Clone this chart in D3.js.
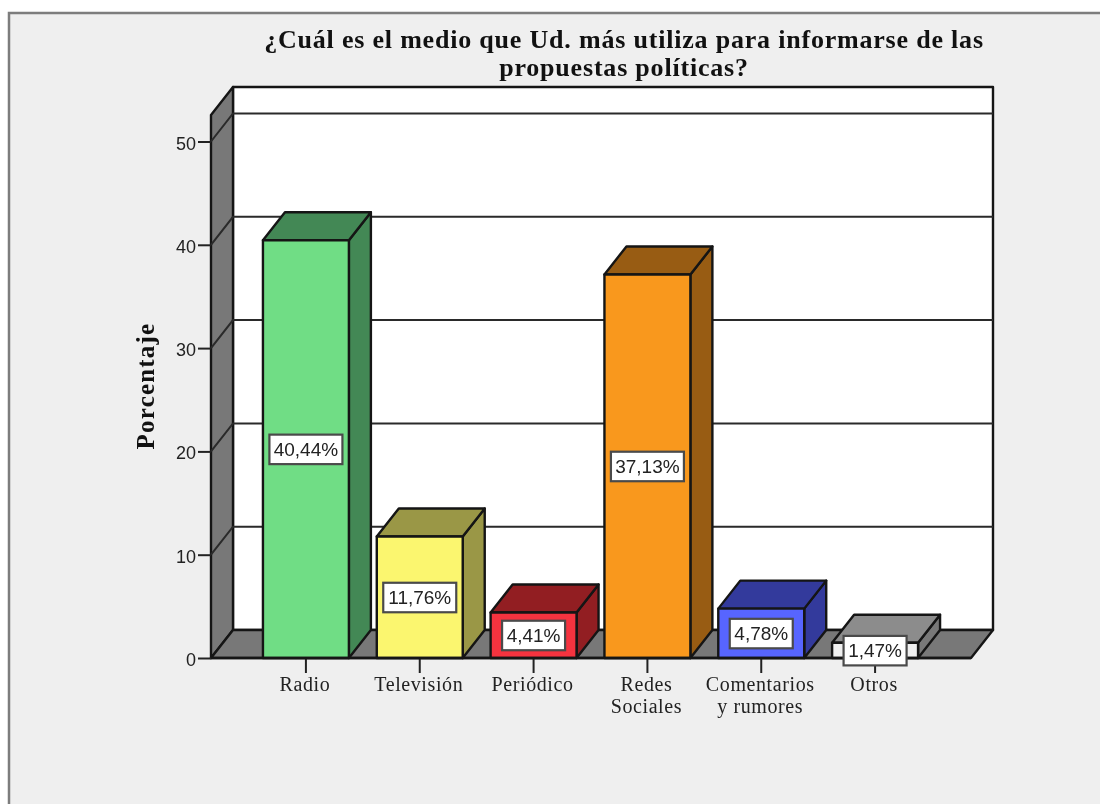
<!DOCTYPE html>
<html><head><meta charset="utf-8">
<script src="https://cdn.jsdelivr.net/npm/d3@7"></script>
<style>html,body{margin:0;padding:0;background:#fff;overflow:hidden}svg{display:block;filter:blur(0.5px)}</style>
</head><body><svg id="c" width="1100" height="804"></svg>
<script>
const titleLines = ["¿Cuál es el medio que Ud. más utiliza para informarse de las","propuestas políticas?"];
const yTitle = "Porcentaje";
const categories = ["Radio","Televisión","Periódico","Redes Sociales","Comentarios y rumores","Otros"];
const categoryLines = [["Radio"],["Televisión"],["Periódico"],["Redes","Sociales"],["Comentarios","y rumores"],["Otros"]];
const values = [40.44,11.76,4.41,37.13,4.78,1.47];
const valueLabels = ["40,44%","11,76%","4,41%","37,13%","4,78%","1,47%"];
const yTicks = [0,10,20,30,40,50];
const frontColors = ["#70dd85","#fbf66f","#f5333f","#f9981d","#5765ff","#f0f0f0"];
const topColors = ["#438855","#9a9746","#921e22","#985c13","#333a9c","#8c8c8c"];
const sideColors = ["#438855","#9a9746","#921e22","#985c13","#333a9c","#787878"];

const svg = d3.select("#c");
const DX = 22, DY = -28, STROKE = "#151515", WALL = "#787878";
const y = d3.scaleLinear().domain([0,50]).range([658,141.5]);
const x = d3.scaleBand().domain(categories).range([249,932]).paddingInner(0.245).paddingOuter(0.1225);
const left = 211, right = 971, yTop = 115, y0 = y(0);

svg.append("rect").attr("x",9).attr("y",13).attr("width",1100).attr("height",810)
  .attr("fill","#efefef").attr("stroke","#7d7d7d").attr("stroke-width",2.5);

const poly = (pts,fill,sw=2.4) => svg.append("polygon").attr("points",pts.map(p=>p.join(",")).join(" "))
  .attr("fill",fill).attr("stroke",STROKE).attr("stroke-width",sw).attr("stroke-linejoin","round");

// back wall, left wall, floor
poly([[left+DX,yTop+DY],[right+DX,yTop+DY],[right+DX,y0+DY],[left+DX,y0+DY]],"#fff");
poly([[left,yTop],[left+DX,yTop+DY],[left+DX,y0+DY],[left,y0]],WALL);
poly([[left,y0],[left+DX,y0+DY],[right+DX,y0+DY],[right,y0]],WALL);

// grid lines
yTicks.filter(t=>t>0).forEach(t=>{
  svg.append("path").attr("fill","none").attr("stroke","#2a2a2a").attr("stroke-width",2)
    .attr("d",d3.line()([[left,y(t)],[left+DX,y(t)+DY],[right+DX,y(t)+DY]]));
});

// bars
categories.forEach((c,i)=>{
  const x0 = x(c), x1 = x0 + x.bandwidth(), t = y(values[i]);
  poly([[x1,t],[x1+DX,t+DY],[x1+DX,y0+DY],[x1,y0]],sideColors[i]);
  poly([[x0,t],[x0+DX,t+DY],[x1+DX,t+DY],[x1,t]],topColors[i]);
  poly([[x0,t],[x1,t],[x1,y0],[x0,y0]],frontColors[i]);
});

// axes
const yAxis = d3.axisLeft(y).tickValues(yTicks).tickSize(13).tickPadding(2);
const gy = svg.append("g").attr("transform",`translate(${left},0)`).call(yAxis);
gy.select(".domain").remove();
gy.selectAll("line").attr("stroke","#222").attr("stroke-width",2);
gy.selectAll("text").attr("font-family","Liberation Sans").attr("font-size",18).attr("fill","#222").attr("dy","0.42em");

const xAxis = d3.axisBottom(x).tickSize(15).tickFormat("");
const gx = svg.append("g").attr("transform",`translate(0,${y0})`).call(xAxis);
gx.selectAll("line").attr("stroke","#222").attr("stroke-width",2);
gx.select(".domain").remove();
svg.append("line").attr("x1",left).attr("x2",right).attr("y1",y0).attr("y2",y0).attr("stroke",STROKE).attr("stroke-width",2.4);

const catText = svg.append("g").attr("font-family","Liberation Serif").attr("font-size",20).attr("letter-spacing",0.6).attr("fill","#222").attr("text-anchor","middle");
categories.forEach((c,i)=>{
  categoryLines[i].forEach((l,j)=>catText.append("text")
    .attr("x",x(c)+x.bandwidth()/2-1).attr("y",691+j*22).text(l));
});

// value labels
categories.forEach((c,i)=>{
  const cx = x(c)+x.bandwidth()/2, cy = y(values[i]/2);
  const w = valueLabels[i].length>5 ? 73 : 63;
  svg.append("rect").attr("x",cx-w/2).attr("y",cy-14.5).attr("width",w).attr("height",29.5)
    .attr("fill","#fff").attr("stroke","#4a4a4a").attr("stroke-width",2.2);
  svg.append("text").attr("x",cx).attr("y",cy+7).attr("text-anchor","middle")
    .attr("font-family","Liberation Sans").attr("font-size",19).attr("fill","#222").text(valueLabels[i]);
});

// titles
titleLines.forEach((l,i)=>svg.append("text").attr("x",624).attr("y",48+i*28).attr("text-anchor","middle")
  .attr("font-family","Liberation Serif").attr("font-weight","bold").attr("font-size",26).attr("letter-spacing",0.8).attr("fill","#111").text(l));
svg.append("text").attr("transform","translate(154,386) rotate(-90)").attr("text-anchor","middle")
  .attr("font-family","Liberation Serif").attr("font-weight","bold").attr("font-size",25).attr("letter-spacing",1.2).attr("fill","#111").text(yTitle);
</script></body></html>
